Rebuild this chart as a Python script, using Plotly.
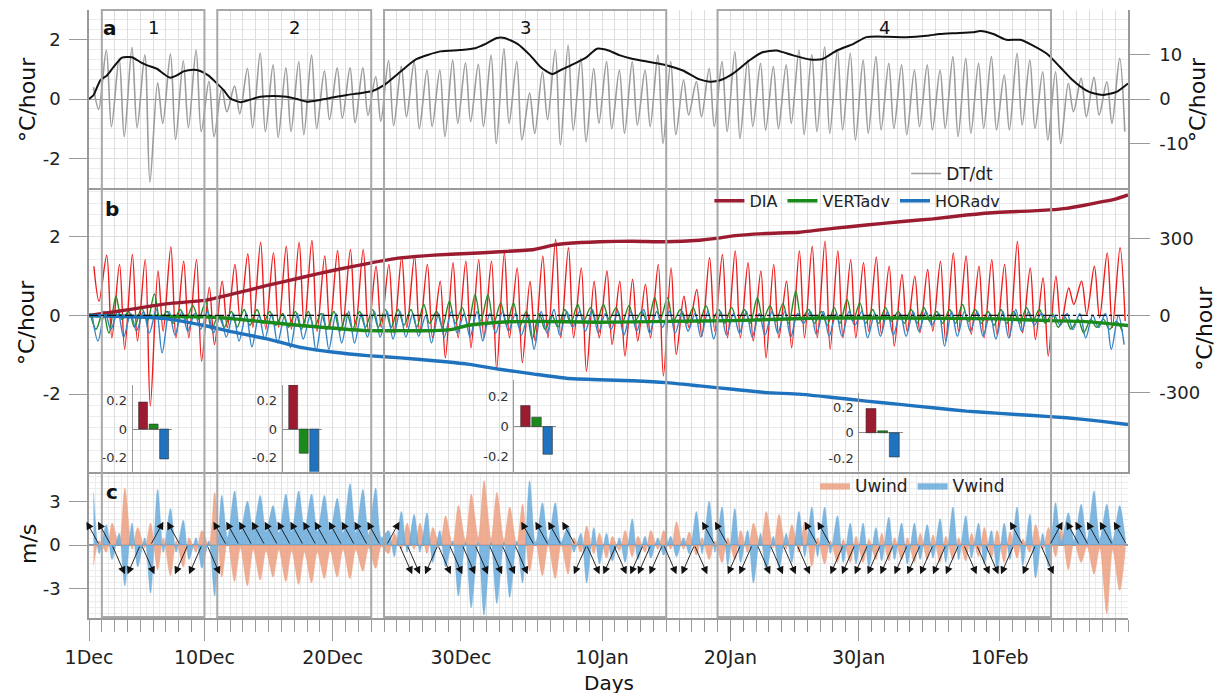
import plotly.graph_objects as go

# ------------------------------------------------------------------ data
# x is "days since 1 Dec"
DAY_LABEL_POS = [0, 9, 19, 29, 40, 50, 60, 71]
DAY_LABELS = ["1Dec", "10Dec", "20Dec", "30Dec", "10Jan", "20Jan", "30Jan", "10Feb"]
N_DAYS = 81

# period boxes (start day, end day, label)
box_start = [1, 10, 23, 49]
box_end = [9, 22, 45, 75]
box_label = ["1", "2", "3", "4"]

# ---- panel a : DT/dt daily maxima / minima (degC/hour)
dt_max = [0.4, 1.65, 1.37, 1.74, 1.48, 0.55, 1.52, 1.29, 1.65, 0.6,
          0.36, 0.44, 1.03, 1.55, 1.15, 1.05, 1.25, 1.48, 0.95, 1.05,
          1.05, 1.05, 0.75, 1.3, 1.1, 1.26, 0.98, 0.98, 1.31, 1.22,
          1.17, 1.48, 1.7, 1.26, 0.2, 0.92, 1.65, 1.82, 1.37, 1.03,
          1.26, 0.98, 1.26, 0.98, 1.48, 1.26, 0.64, 0.58, 1.03, 1.26,
          1.6, 1.31, 1.2, 1.09, 1.15, 1.65, 1.5, 1.76, 1.65, 1.54,
          1.31, 1.43, 1.2, 1.15, 0.98, 1.15, 0.98, 1.43, 1.37, 1.2,
          1.43, 0.81, 1.54, 1.31, 0.92, 0.92, 0.53, 0.7, 0.73, 0.58, 1.37]
dt_min = [-0.35, -0.93, -1.27, -0.97, -2.8, -0.82, -1.36, -0.97, -1.1, -1.27,
          -0.43, -0.5, -0.97, -1.1, -1.3, -1.1, -1.2, -1.0, -0.7, -0.65,
          -0.8, -0.55, -0.75, -0.9, -0.6, -1.0, -0.93, -1.27, -0.82, -0.76,
          -0.93, -1.5, -0.82, -1.38, -1.16, -0.7, -1.55, -1.05, -1.44, -0.82,
          -1.0, -1.16, -0.88, -0.93, -1.5, -1.2, -0.54, -0.6, -0.93, -1.1,
          -1.33, -0.93, -1.05, -1.0, -0.82, -1.2, -1.1, -1.16, -1.04, -1.38,
          -1.16, -1.04, -0.99, -1.21, -0.93, -1.04, -0.99, -1.27, -1.16, -0.99,
          -1.04, -1.04, -0.88, -0.99, -1.38, -1.5, -0.43, -0.6, -0.54, -0.82, -1.1]

# cumulative temperature change (right axis, degC)
cum_t_day = [0, 0.36, 0.88, 1.4, 1.92, 2.57, 3.35, 4.0, 4.5, 5.3, 5.8, 6.33, 6.85, 7.37,
             8.15, 8.67, 9.3, 9.97, 10.5, 11.0, 11.8, 12.5, 13.35, 14.4, 15.4, 16.2, 17.0,
             18.0, 19.1, 20.1, 21.1, 22.1, 23.0, 24.3, 25.55, 27.4, 28.9, 30.1, 31.0,
             31.8, 32.4, 33.4, 34.4, 35.2, 36.1, 36.7, 37.8, 38.8, 39.6, 40.5, 41.4,
             42.4, 43.7, 45.0, 46.3, 47.6, 48.4, 49.2, 50.2, 51.5, 52.5, 53.6, 54.9,
             56.2, 57.2, 58.3, 59.6, 60.6, 62.2, 63.7, 65.3, 66.3, 67.4, 68.9, 69.5,
             70.5, 71.5, 72.6, 73.6, 74.7, 75.7, 76.7, 77.7, 78.3, 79.1, 80.1, 81.0]
cum_t_val = [0, 0.9, 4.2, 5.3, 7.2, 9.3, 9.4, 8.3, 7.6, 6.8, 5.7, 4.8, 5.3, 6.2,
             6.6, 6.3, 5.3, 3.5, 2.0, 0.15, -0.7, -0.2, 0.5, 0.7, 0.5, 0.0, -0.6,
             -0.2, 0.4, 0.9, 1.3, 1.8, 3.1, 6.2, 9.0, 10.7, 11.0, 11.4, 12.5,
             13.7, 13.7, 12.4, 9.8, 7.2, 5.6, 6.4, 7.9, 9.4, 11.3, 10.9, 9.8,
             9.0, 8.3, 7.6, 6.4, 4.4, 3.9, 4.2, 5.7, 8.7, 10.5, 10.9, 9.8,
             8.9, 9.0, 10.9, 12.4, 13.9, 14.0, 13.9, 14.2, 14.6, 14.8, 15.0, 15.3,
             14.6, 13.3, 13.3, 12.0, 10.1, 7.2, 4.2, 2.0, 1.3, 0.9, 1.6, 3.5]

# ---- panel b : heat budget terms, daily maxima / minima (degC/hour)
dia_max = [1.25, 1.53, 1.30, 1.55, 1.42, 1.13, 1.74, 1.38, 1.42, 0.72,
           0.87, 1.30, 1.57, 1.86, 1.59, 1.76, 1.86, 1.91, 1.51, 1.65,
           1.68, 1.68, 1.25, 1.30, 1.5, 1.51, 1.3, 0.87, 1.34, 1.38,
           1.42, 1.38, 1.59, 1.21, 0.87, 1.51, 1.93, 1.72, 1.21, 0.87,
           1.13, 0.87, 0.92, 0.79, 1.3, 1.21, 0.49, 0.66, 1.47, 1.55,
           1.64, 1.34, 1.13, 1.3, 0.87, 1.64, 1.76, 1.89, 1.64, 1.42,
           1.34, 1.48, 1.25, 1.04, 1.0, 1.17, 1.38, 1.59, 1.51, 1.25,
           1.42, 1.3, 1.89, 1.21, 0.96, 1.0, 0.7, 0.87, 1.25, 1.59, 1.72]
dia_min = [0.36, -0.57, -0.86, -0.65, -2.3, -0.4, -0.57, -0.57, -1.16, -0.74,
           -0.31, -0.1, -0.3, -0.35, -0.3, -0.35, -0.3, -0.4, -0.3, -0.3,
           -0.35, -0.4, -0.3, -0.45, -0.31, -0.44, -0.57, -1.08, -0.57, -0.82,
           -0.57, -1.37, -0.57, -1.2, -0.65, -0.57, -0.57, -0.57, -1.42, -0.57,
           -0.74, -1.03, -0.65, -0.57, -1.54, -0.99, -0.31, -0.53, -0.4, -0.57,
           -0.57, -0.65, -1.08, -0.57, -0.82, -0.57, -0.57, -0.86, -0.57, -0.57,
           -0.4, -0.48, -0.78, -0.4, -0.44, -0.4, -0.65, -0.4, -0.48, -0.57,
           -0.48, -0.57, -0.44, -0.61, -1.03, -0.23, 0.28, 0.03, -0.06, -0.31, -0.14]
vert_max = [0.05, 0.1, 0.49, 0.1, 0.2, 0.55, 0.1, 0.15, 0.25, 0.35,
            0.0, 0.1, 0.15, 0.15, 0.1, 0.05, 0.1, 0.1, 0.05, 0.1,
            0.05, 0.1, 0.15, 0.15, 0.15, 0.15, 0.28, 0.1, 0.36, 0.2,
            0.53, 0.53, 0.32, 0.32, 0.1, 0.05, 0.0, 0.15, 0.28, 0.2,
            0.28, 0.2, 0.25, 0.1, 0.45, 0.45, 0.15, 0.2, 0.25, 0.15,
            0.2, 0.15, 0.45, 0.25, 0.3, 0.62, 0.15, 0.1, 0.2, 0.41,
            0.32, 0.15, 0.2, 0.1, 0.15, 0.2, 0.1, 0.15, 0.28, 0.15,
            0.1, 0.15, 0.1, 0.2, 0.15, 0.05, -0.05, -0.1, -0.1, -0.1, -0.15]
vert_min = [-0.35, -0.45, -0.1, -0.3, -0.15, -0.1, -0.2, -0.1, -0.1, -0.35,
            -0.3, -0.3, -0.25, -0.2, -0.25, -0.3, -0.35, -0.3, -0.35, -0.4,
            -0.35, -0.3, -0.3, -0.3, -0.25, -0.3, -0.2, -0.3, -0.2, -0.25,
            -0.15, -0.2, -0.25, -0.3, -0.6, -0.35, -0.3, -0.2, -0.15, -0.2,
            -0.1, -0.2, -0.15, -0.2, -0.1, -0.15, -0.2, -0.2, -0.15, -0.2,
            -0.15, -0.2, -0.1, -0.15, -0.2, -0.1, -0.2, -0.25, -0.2, -0.15,
            -0.2, -0.2, -0.15, -0.2, -0.2, -0.15, -0.2, -0.2, -0.15, -0.2,
            -0.25, -0.2, -0.2, -0.15, -0.2, -0.3, -0.35, -0.44, -0.3, -0.35, -0.4]
hor_max = [0.0, 0.1, 0.1, 0.05, 0.1, 0.15, 0.1, 0.1, 0.05, 0.1,
           0.0, 0.05, 0.05, 0.0, 0.05, 0.0, 0.05, 0.0, 0.05, 0.05,
           0.1, 0.05, 0.1, 0.1, 0.1, 0.05, 0.0, 0.05, 0.1, 0.05,
           0.1, 0.05, 0.1, 0.05, 0.0, 0.1, 0.15, 0.1, 0.1, 0.15,
           0.05, 0.1, 0.1, 0.15, 0.1, 0.1, 0.1, 0.05, 0.1, 0.1,
           0.05, 0.1, 0.05, 0.1, 0.1, 0.05, 0.1, 0.1, 0.05, 0.1,
           0.1, 0.05, 0.1, 0.05, 0.1, 0.1, 0.05, 0.1, 0.1, 0.1,
           0.05, 0.1, 0.15, 0.1, 0.05, 0.0, 0.05, 0.05, 0.0, 0.05, 0.0]
hor_min = [-0.65, -0.35, -0.55, -0.4, -0.45, -0.95, -0.5, -0.4, -0.35, -0.45,
           -0.55, -0.65, -0.8, -0.6, -0.7, -0.82, -0.6, -0.9, -0.86, -0.7,
           -0.7, -0.55, -0.55, -0.6, -0.55, -0.53, -0.7, -0.55, -0.45, -0.55,
           -0.65, -0.45, -0.4, -0.5, -0.86, -0.45, -0.5, -0.3, -0.4, -0.45,
           -0.35, -0.5, -0.4, -0.45, -0.3, -0.45, -0.4, -0.55, -0.6, -0.5,
           -0.45, -0.55, -0.5, -0.45, -0.55, -0.2, -0.48, -0.53, -0.53, -0.25,
           -0.57, -0.53, -0.5, -0.53, -0.4, -0.25, -0.78, -0.53, -0.4, -0.53,
           -0.6, -0.57, -0.4, -0.25, -0.15, -0.25, -0.36, -0.57, -0.31, -0.86, -0.74]

# cumulative budget terms (right axis, degC)
cum_dia_day = [0, 3.5, 6.1, 9.0, 11.3, 13.9, 16.5, 19.1, 21.7, 24.3, 26.9, 29.5, 32.0,
               34.7, 36.2, 37.2, 39.8, 42.4, 45.0, 47.6, 48.9, 50.2, 52.8, 55.4, 58.0,
               60.6, 63.2, 65.8, 68.4, 71.0, 73.6, 74.9, 76.2, 77.5, 78.8, 80.1, 81.0]
cum_dia_val = [0, 26, 46, 59, 85, 117, 147, 176, 202, 224, 235, 241, 248,
               257, 274, 280, 287, 289, 287, 293, 300, 310, 319, 324, 339,
               352, 365, 376, 391, 402, 407, 411, 417, 428, 441, 454, 469]
cum_vert_day = [0, 3.5, 6.1, 9.0, 11.3, 16.5, 21.7, 24.3, 26.9, 28.2, 29.5, 32.0,
                34.7, 39.8, 45.0, 50.2, 57.0, 63.2, 71.0, 74.9, 77.5, 81.0]
cum_vert_val = [0, -4, -4, -5, -13, -39, -59, -59, -59, -55, -39, -26,
                -23, -26, -23, -20, -10, -10, -13, -20, -23, -39]
cum_hor_day = [0, 3.5, 6.1, 9.0, 11.3, 13.9, 16.5, 19.1, 21.7, 24.3, 26.9, 29.5,
               32.0, 34.7, 37.2, 39.8, 42.4, 45.0, 47.6, 50.2, 52.8, 55.4, 58.0,
               60.6, 63.2, 65.8, 68.4, 71.0, 73.6, 76.2, 78.8, 81.0]
cum_hor_val = [0, -5, -13, -39, -65, -91, -124, -143, -156, -165, -176, -189,
               -209, -228, -244, -250, -254, -261, -274, -287, -300, -306, -319,
               -333, -346, -359, -372, -381, -389, -398, -411, -424]

# inset bar charts: mean DIA, VERTadv, HORadv per period (degC/hour)
inset_dia = [0.19, 0.31, 0.14, 0.19]
inset_vert = [0.035, -0.17, 0.063, 0.015]
inset_hor = [-0.21, -0.33, -0.184, -0.19]

# ---- panel c : wind components, daily maxima / minima (m/s)
v_max = [3.6, 1.4, 0.8, 1.5, 0.5, 3.8, 2.5, 1.7, 0.5, 0.3,
         3.4, 3.7, 3.0, 3.4, 2.7, 3.5, 3.7, 3.5, 3.4, 3.2,
         4.2, 3.8, 3.9, 1.0, 2.3, 2.1, 2.2, 1.0, 0.3, 0.2,
         0.2, 0.2, 0.2, 0.3, 4.4, 2.9, 2.9, 1.3, 0.8, 1.2,
         0.8, 0.5, 1.8, 0.6, 0.5, 0.6, 0.5, 2.3, 3.0, 2.6,
         2.5, 1.0, 0.8, 0.6, 0.8, 2.3, 2.6, 2.6, 2.0, 1.5,
         1.5, 1.2, 1.9, 1.5, 1.5, 1.4, 1.8, 2.6, 2.0, 1.5,
         1.0, 1.5, 2.6, 2.1, 0.8, 2.9, 2.2, 2.8, 3.7, 2.8, 2.7]
v_min = [-0.6, -1.0, -2.8, -1.5, -3.3, -0.5, -0.5, -1.0, -1.6, -3.5,
         0.5, 0.9, 1.0, 0.9, 0.8, 0.9, 1.0, 0.9, 0.9, 0.8,
         0.8, 0.7, 0.5, -0.8, -0.5, -0.5, -1.2, -1.5, -3.5, -4.3,
         -4.8, -4.0, -3.6, -2.6, 0.0, 0.3, 0.2, -0.5, -2.6, -1.3,
         -1.1, -1.2, -1.0, -0.9, -0.7, -0.8, -0.6, -0.6, -0.5, -1.4,
         -1.2, -2.6, -1.8, -1.6, -1.2, -0.8, -0.8, -0.6, -1.2, -1.3,
         -1.5, -1.1, -1.0, -1.3, -1.0, -0.9, -1.2, -1.0, -0.9, -1.3,
         -1.7, -1.0, -1.4, -2.25, -1.5, 0.2, 0.3, 0.3, 0.4, 0.3, 0.3]
u_max = [0.3, 1.5, 3.9, 1.2, 1.5, 0.5, 0.3, 0.5, 1.0, 3.6,
         0.3, -0.2, -0.3, -0.4, -0.3, -0.4, -0.5, -0.5, -0.4, -0.3,
         -0.3, -0.2, -0.1, 0.8, 1.5, 1.5, 1.2, 2.0, 2.7, 3.5,
         4.4, 3.6, 2.6, 2.8, 0.3, 0.0, 0.0, 0.5, 1.3, 0.8,
         0.6, 1.0, 0.6, 1.0, 1.0, 1.6, 0.9, 0.5, 0.3, 0.5,
         1.0, 1.5, 2.3, 2.1, 1.4, 1.6, 0.5, 0.3, 0.4, 0.6,
         0.4, 0.8, 0.5, 0.5, 0.8, 0.7, 0.6, 0.5, 0.8, 1.2,
         1.0, 0.9, 0.4, 1.4, 1.2, 1.1, 0.2, -0.1, -0.2, -0.3, -0.2]
u_min = [-1.4, -0.5, 0.0, -0.3, -0.2, -1.7, -2.1, -1.5, -0.5, 0.0,
         -2.2, -2.5, -2.8, -2.4, -2.2, -2.5, -2.7, -2.6, -2.3, -2.2,
         -2.3, -1.8, -1.6, -0.6, -0.3, -0.3, -0.6, 0.0, 0.0, 0.3,
         0.5, 0.4, 0.3, 0.0, -1.8, -2.1, -2.3, -2.0, -0.5, -0.6,
         -0.9, -0.4, -0.8, -0.5, -0.3, -0.3, -0.3, -0.7, -1.0, -1.2,
         -1.0, -0.5, 0.0, -0.2, -0.3, -0.5, -1.45, -1.3, -1.2, -1.2,
         -1.2, -1.0, -1.1, -1.0, -1.2, -1.0, -1.2, -1.0, -1.1, -0.8,
         -0.9, -1.2, -0.9, -0.5, -0.3, -0.8, -1.7, -1.2, -2.0, -4.7, -3.1]

# daily wind-direction arrows: day of arrow head and compass octant
arrow_day = [-0.2, 0.7, 2.8, 3.0, 5.1, 5.8, 6.1, 6.7, 7.8, 9.7, 10.2,
             10.7, 11.7, 12.7, 13.7, 14.7, 15.7, 16.7, 17.6, 18.7, 19.7, 20.7, 21.7,
             24.2, 25.2, 25.8, 26.2,
             28.2, 29.1, 30.1, 31.1, 32.2, 33.2, 34.2,
             33.7, 34.8, 35.8, 36.9,
             37.8, 39.8, 40.1, 41.9, 42.2, 42.8, 43.7, 45.8, 46.2,
             47.8, 48.2, 48.8, 49.8, 50.7,
             53.1, 54.1, 55.1, 55.8, 56.2, 56.8,
             57.8, 58.7, 59.7, 60.7, 61.7, 62.8, 63.8, 64.8, 65.8, 66.8,
             69.2, 70.2, 70.9, 71.1, 71.8, 72.8,
             75.2, 75.9, 76.2, 76.9, 77.8, 78.8, 79.9]
arrow_dir = ["NW", "NW", "SE", "SW", "SE", "NE", "NW", "SW", "SW", "NW", "SE",
             "NW", "NW", "NW", "NW", "NW", "NW", "NW", "NW", "NW", "NW", "NW", "NW",
             "NE", "SE", "SE", "SW",
             "SE", "SE", "SE", "SE", "SE", "SE", "SE",
             "NW", "NW", "NW", "NW",
             "SW", "SE", "SW", "SE", "SW", "SW", "SW", "SE", "SW",
             "NW", "SE", "NW", "SW", "SW",
             "SE", "SE", "SE", "NW", "SE", "NW",
             "SW", "SW", "SW", "SW", "SW", "SW", "SW", "SW", "SW", "SW",
             "SE", "SE", "SE", "SW", "NW", "SW",
             "SE", "NE", "NW", "NW", "NW", "NW", "NW"]

# ------------------------------------------------------------------ style
FONT = "DejaVu Sans"
AXC = "#9a9a9a"
GRID = "#dedede"
GRID_MINOR = "#ececec"
C_GRAY = "#9c9c9c"
C_BLACK = "#111111"
C_RED = "#ee1d1d"
C_DIA = "#9b1b30"
C_GREEN = "#238b23"
C_VERT = "#1a8a1a"
C_BLUE = "#3584c6"
C_HOR = "#1f72be"
C_U = "rgba(236,160,128,0.85)"
C_V = "rgba(104,170,218,0.85)"

DOM_C = [0.0, 0.2401]
DOM_B = [0.2401, 0.7072]
DOM_A = [0.7072, 1.0]


def diurnal(hi, lo, p_hi, p_lo):
    xs, ys = [], []
    for d, (a, b) in enumerate(zip(hi, lo)):
        for x, y in sorted([(d + p_hi, a), (d + p_lo, b)]):
            xs.append(x)
            ys.append(y)
    return xs, ys


fig = go.Figure()

# ---- panel a
x, y = diurnal(dt_max, dt_min, 0.35, 0.75)
fig.add_trace(go.Scatter(x=x, y=y, xaxis="x3", yaxis="y4", mode="lines",
                         line=dict(color=C_GRAY, width=1.6, shape="spline", smoothing=0.9),
                         name="DT/dt", legend="legend", showlegend=True))
fig.add_trace(go.Scatter(x=cum_t_day, y=cum_t_val, xaxis="x3", yaxis="y5", mode="lines",
                         line=dict(color=C_BLACK, width=2, shape="spline", smoothing=0.6),
                         showlegend=False))

# ---- panel b
for hi, lo, ph, pl, col in [(dia_max, dia_min, 0.38, 0.78, C_RED),
                            (vert_max, vert_min, 0.1, 0.55, C_GREEN),
                            (hor_max, hor_min, 0.25, 0.7, C_BLUE)]:
    x, y = diurnal(hi, lo, ph, pl)
    fig.add_trace(go.Scatter(x=x, y=y, xaxis="x2", yaxis="y2", mode="lines",
                             line=dict(color=col, width=1.4, shape="spline", smoothing=0.9),
                             showlegend=False))
for dd, vv, col, nm in [(cum_dia_day, cum_dia_val, C_DIA, "DIA"),
                        (cum_vert_day, cum_vert_val, C_VERT, "VERTadv"),
                        (cum_hor_day, cum_hor_val, C_HOR, "HORadv")]:
    fig.add_trace(go.Scatter(x=dd, y=vv, xaxis="x2", yaxis="y3", mode="lines",
                             line=dict(color=col, width=3.4, shape="spline", smoothing=0.5),
                             name=nm, legend="legend2", showlegend=True))

# ---- panel c
x, y = diurnal(u_max, u_min, 0.8, 0.35)
fig.add_trace(go.Scatter(x=x, y=y, xaxis="x", yaxis="y", mode="lines", fill="tozeroy",
                         fillcolor=C_U, line=dict(color="rgba(236,160,128,0.9)", width=0.5,
                                                  shape="spline", smoothing=0.8),
                         name="Uwind", legend="legend3", showlegend=True))
x, y = diurnal(v_max, v_min, 0.35, 0.8)
fig.add_trace(go.Scatter(x=x, y=y, xaxis="x", yaxis="y", mode="lines", fill="tozeroy",
                         fillcolor=C_V, line=dict(color="rgba(104,170,218,0.9)", width=0.5,
                                                  shape="spline", smoothing=0.8),
                         name="Vwind", legend="legend3", showlegend=True))
# dummy for overlay x-axis carrying the date labels
fig.add_trace(go.Scatter(x=[None], y=[None], xaxis="x8", yaxis="y", showlegend=False,
                         hoverinfo="skip"))

# ---- insets
inset_xdom = [[0.0419, 0.0799], [0.1864, 0.2244], [0.4093, 0.4495], [0.7414, 0.7835]]
inset_ydom = [[0.2406, 0.3832], [0.2406, 0.3832], [0.2406, 0.3914], [0.2418, 0.3696]]
layout_axes = {}
for i in range(4):
    xa, ya = "x%d" % (4 + i), "y%d" % (6 + i)
    fig.add_trace(go.Bar(x=[0, 1, 2], y=[inset_dia[i], inset_vert[i], inset_hor[i]],
                         xaxis=xa, yaxis=ya, width=0.85, showlegend=False,
                         marker=dict(color=[C_DIA, C_VERT, C_HOR],
                                     line=dict(color="#333333", width=0.6))))
    layout_axes["xaxis%d" % (4 + i)] = dict(domain=inset_xdom[i], anchor=ya, range=[-1, 2.75],
                                            visible=False)
    layout_axes["yaxis%d" % (6 + i)] = dict(domain=inset_ydom[i], anchor=xa, range=[-0.3, 0.31],
                                            tickmode="array", tickvals=[-0.2, 0, 0.2],
                                            ticktext=["-0.2", "0", "0.2"], ticks="",
                                            ticklabelstandoff=2,
                                            tickfont=dict(size=13, color="#333333"),
                                            showline=True, linecolor=AXC, linewidth=1,
                                            showgrid=False, zeroline=True,
                                            zerolinecolor="#8c8c8c", zerolinewidth=1)

# ---- arrows (annotations)
annotations = []
for d, code in zip(arrow_day, arrow_dir):
    head_y = 1.6 if code[0] == "N" else -2.0
    tail_x = d + 1.0 if code[1] == "W" else d - 1.0
    annotations.append(dict(x=d, y=head_y, ax=tail_x, ay=0, xref="x", yref="y",
                            axref="x", ayref="y", text="", showarrow=True,
                            arrowhead=2, arrowsize=1.7, arrowwidth=0.9,
                            arrowcolor="#111111", standoff=0))

# box numbers
for s, e, lab in zip(box_start, box_end, box_label):
    annotations.append(dict(x=(s + e) / 2, y=0.9704, xref="x", yref="paper", text=lab,
                            xanchor="center", yanchor="middle",
                            showarrow=False, font=dict(size=18, color="#111111")))
# panel letters
for lab, px, py in [("a", 0.0202, 0.9704), ("b", 0.0221, 0.6727), ("c", 0.0221, 0.2072)]:
    annotations.append(dict(x=px, y=py, xref="paper", yref="paper", text="<b>%s</b>" % lab,
                            xanchor="center", yanchor="middle",
                            showarrow=False, font=dict(size=20, color="#111111")))
# axis titles
for txt, px, py in [("°C/hour", -0.0597, 0.8536), ("°C/hour", -0.0597, 0.487),
                    ("m/s", -0.0587, 0.1217), ("°C/hour", 1.0674, 0.852),
                    ("°C/hour", 1.074, 0.477)]:
    annotations.append(dict(x=px, y=py, xref="paper", yref="paper", text=txt, textangle=-90,
                            xanchor="center", yanchor="middle",
                            showarrow=False, font=dict(size=22, color="#111111")))
annotations.append(dict(x=0.5, y=-0.107, xref="paper", yref="paper", text="Days",
                        xanchor="center", yanchor="middle",
                        showarrow=False, font=dict(size=20, color="#111111")))

# ---- shapes
shapes = []
for s, e in zip(box_start, box_end):
    shapes.append(dict(type="rect", xref="x", yref="paper", x0=s, x1=e, y0=0.0016, y1=1.0,
                       line=dict(color="#a8a8a8", width=2), fillcolor="rgba(0,0,0,0)",
                       layer="above"))
shapes.append(dict(type="line", xref="x2 domain", yref="y2", x0=0, x1=1, y0=0, y1=0,
                   line=dict(color="#111111", width=1.2, dash="dashdot"), layer="above"))

tick_common = dict(ticks="outside", tickcolor=AXC, tickwidth=1, ticklen=18,
                   tickfont=dict(size=18, color="#222222"), ticklabelstandoff=5)

xgrid_top = dict(range=[0, N_DAYS], domain=[0, 1], tickmode="linear", tick0=0, dtick=1,
                 showticklabels=False, ticks="", showgrid=True, gridcolor=GRID,
                 zeroline=False, showline=True, linecolor=AXC, linewidth=2)

fig.update_layout(
    width=1222, height=693,
    margin=dict(l=81, r=102, t=2, b=83),
    paper_bgcolor="white", plot_bgcolor="rgba(0,0,0,0)",
    font=dict(family=FONT, color="#222222"),
    showlegend=True,
    legend=dict(x=0.875, y=0.7303, xanchor="right", yanchor="middle",
                bgcolor="rgba(0,0,0,0)", font=dict(size=17), itemwidth=30),
    legend2=dict(x=0.882, y=0.686, xanchor="right", yanchor="middle", orientation="h",
                 bgcolor="rgba(0,0,0,0)", font=dict(size=16), itemwidth=30),
    legend3=dict(x=0.8864, y=0.217, xanchor="right", yanchor="middle", orientation="h",
                 bgcolor="rgba(0,0,0,0)", font=dict(size=17), itemwidth=30),
    xaxis=dict(domain=[0, 1], range=[0, N_DAYS], anchor="y", tickmode="array",
               tickvals=list(range(0, N_DAYS + 1)), ticks="outside", ticklen=12,
               tickcolor=AXC, tickwidth=1, showticklabels=False, showgrid=True,
               gridcolor=GRID, zeroline=False, showline=True, linecolor=AXC, linewidth=2,
               minor=dict(tickmode="linear", tick0=0, dtick=0.5, showgrid=True,
                          gridcolor=GRID_MINOR, ticks="")),
    xaxis8=dict(domain=[0, 1], range=[0, N_DAYS], anchor="y", overlaying="x", side="bottom",
                tickmode="array", tickvals=DAY_LABEL_POS, ticktext=DAY_LABELS,
                ticks="outside", ticklen=22, tickcolor=AXC, tickwidth=1,
                tickfont=dict(size=19, color="#222222"), ticklabelstandoff=0,
                showgrid=False, zeroline=False, showline=False),
    xaxis2=dict(anchor="y2", **xgrid_top),
    xaxis3=dict(anchor="y4", **xgrid_top),
    yaxis=dict(domain=DOM_C, range=[-5, 5], anchor="x", tickmode="array",
               tickvals=[-3, 0, 3], ticktext=["-3", "0", "3"], showline=True,
               linecolor=AXC, linewidth=1.5, showgrid=True, gridcolor=GRID,
               zeroline=True, zerolinecolor="#999999", zerolinewidth=1.5,
               minor=dict(tickmode="linear", tick0=0, dtick=3 / 7, showgrid=True,
                          gridcolor=GRID_MINOR, ticks=""), **tick_common),
    yaxis2=dict(domain=DOM_B, range=[-3.98, 3.24], anchor="x2", tickmode="array",
                tickvals=[-2, 0, 2], ticktext=["-2", "0", "2"], showline=True,
                linecolor=AXC, linewidth=1.5, showgrid=True, gridcolor=GRID, zeroline=False,
                minor=dict(tickmode="linear", tick0=0, dtick=2 / 7, showgrid=True,
                           gridcolor=GRID_MINOR, ticks=""), **tick_common),
    yaxis3=dict(range=[-609, 496], anchor="x2", overlaying="y2", side="right",
                tickmode="array", tickvals=[-300, 0, 300], ticktext=["-300", "0", "300"],
                showline=True, linecolor=AXC, linewidth=1.5, showgrid=False, zeroline=False,
                ticks="outside", tickcolor=AXC, tickwidth=1, ticklen=20,
                tickfont=dict(size=18, color="#222222"), ticklabelstandoff=6),
    yaxis4=dict(domain=DOM_A, range=[-3, 3], anchor="x3", tickmode="array",
                tickvals=[-2, 0, 2], ticktext=["-2", "0", "2"], showline=True,
                linecolor=AXC, linewidth=1.5, showgrid=True, gridcolor=GRID,
                zeroline=True, zerolinecolor="#9a9a9a", zerolinewidth=1.2,
                minor=dict(tickmode="linear", tick0=0, dtick=1 / 3, showgrid=True,
                           gridcolor=GRID_MINOR, ticks=""), **tick_common),
    yaxis5=dict(range=[-20, 20], anchor="x3", overlaying="y4", side="right",
                tickmode="array", tickvals=[-10, 0, 10], ticktext=["-10", "0", "10"],
                showline=True, linecolor=AXC, linewidth=1.5, showgrid=False, zeroline=False,
                ticks="outside", tickcolor=AXC, tickwidth=1, ticklen=20,
                tickfont=dict(size=18, color="#222222"), ticklabelstandoff=6),
    annotations=annotations,
    shapes=shapes,
)
fig.update_layout(**layout_axes)

fig.write_html("out.html")
